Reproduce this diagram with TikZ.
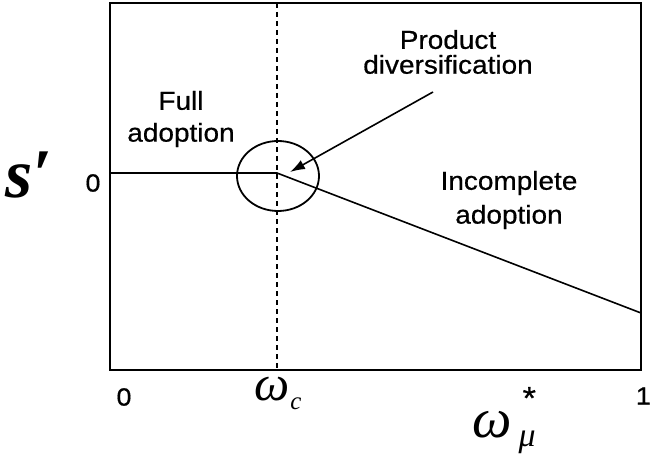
\documentclass[tikz,border=0pt]{standalone}
\usepackage{fontspec}
\setmainfont{Liberation Sans}
\newfontfamily\labfont[FakeStretch=1.08,FakeBold=0.6]{Liberation Sans}
\newfontfamily\serfont{Liberation Serif}
\usetikzlibrary{arrows.meta,shapes.geometric}
\tikzset{
  frame/.style={line width=2.2bp},
  dotline/.style={line width=2bp,dash pattern=on 5bp off 4bp},
  curve/.style={line width=1.6bp},
  lab/.style={font=\labfont\fontsize{26}{32}\selectfont,align=center,inner sep=0pt},
  tick/.style={font=\labfont\fontsize{25}{25}\selectfont,inner sep=0pt},
  greek/.style={font=\serfont\itshape,inner sep=0pt,anchor=base west},
}
\begin{document}
\begin{tikzpicture}[x=1bp,y=-1bp]
\useasboundingbox (0,0) rectangle (652,466);
\draw[frame] (110,3) rectangle (641,370);
\coordinate (top) at (277,3);
\coordinate (bot) at (277,370);
\draw[dotline] (top) -- (bot);
\coordinate (y0) at (110,173);
\coordinate (wc) at (277,173);
\coordinate (end) at (641,313);
\draw[curve] (y0) -- (wc) -- (end);
\node[draw,ellipse,line width=1.8bp,minimum width=82bp,minimum height=70bp,inner sep=0pt] (circ) at (278,176) {};
\node[lab] (full) at (181,119) {Full\\adoption};
\node[lab,font=\labfont\fontsize{26}{25}\selectfont] (prod) at (448,52) {Product\\diversification};
\node[lab,font=\labfont\fontsize{26}{34}\selectfont] (inc) at (509,200) {Incomplete\\adoption};
\coordinate (tail) at (433,92);
\coordinate (tip) at (290,172);
\draw[curve,-{Latex[length=15bp,width=10bp]}] (tail) -- (tip);
\node[tick] (zy) at (93,183) {0};
\node[tick] (zx) at (124,397) {0};
\node[tick,anchor=east] (one) at (651,396) {1};
\node[font=\serfont\bfseries\itshape\fontsize{70}{70}\selectfont,inner sep=0pt] (s) at (29,175) {s′};
\node[greek,font=\serfont\itshape\fontsize{50}{50}\selectfont] (wcl) at (254,400)
  {ω\kern1bp\raisebox{-9bp}{\fontsize{25}{25}\selectfont c}};
\node[greek,font=\serfont\itshape\fontsize{56}{56}\selectfont] (wmu) at (472,437)
  {ω\kern7bp\rlap{\raisebox{-9bp}{\fontsize{34}{34}\selectfont μ}}\raisebox{28bp}{\kern4bp\labfont\upshape\fontsize{32}{32}\selectfont *}};
\end{tikzpicture}
\end{document}
